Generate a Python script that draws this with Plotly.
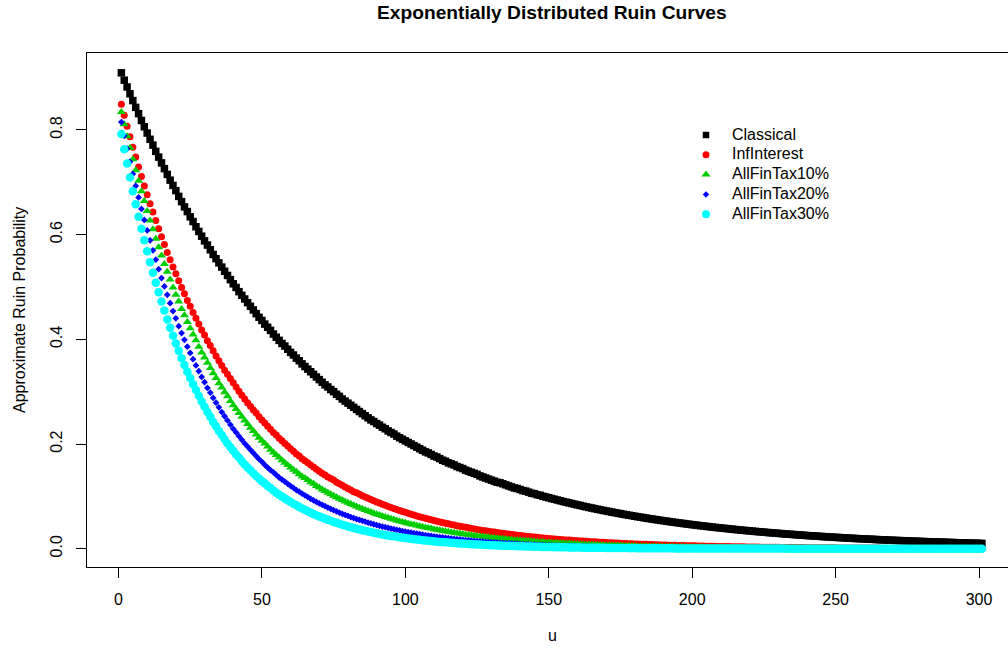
import plotly.graph_objects as go

# ---- data ----
u = list(range(1, 302))

classical = [
    0.909, 0.895, 0.882, 0.869, 0.856, 0.843, 0.831, 0.818, 0.806, 0.794,
    0.782, 0.771, 0.759, 0.748, 0.737, 0.726, 0.715, 0.704, 0.694, 0.684,
    0.673, 0.663, 0.653, 0.644, 0.634, 0.625, 0.615, 0.606, 0.597, 0.588,
    0.580, 0.571, 0.562, 0.554, 0.546, 0.538, 0.530, 0.522, 0.514, 0.506,
    0.499, 0.491, 0.484, 0.477, 0.470, 0.463, 0.456, 0.449, 0.442, 0.436,
    0.429, 0.423, 0.417, 0.410, 0.404, 0.398, 0.392, 0.387, 0.381, 0.375,
    0.370, 0.364, 0.359, 0.353, 0.348, 0.343, 0.338, 0.333, 0.328, 0.323,
    0.318, 0.313, 0.309, 0.304, 0.300, 0.295, 0.291, 0.286, 0.282, 0.278,
    0.274, 0.270, 0.266, 0.262, 0.258, 0.254, 0.250, 0.246, 0.243, 0.239,
    0.236, 0.232, 0.229, 0.225, 0.222, 0.219, 0.215, 0.212, 0.209, 0.206,
    0.203, 0.200, 0.197, 0.194, 0.191, 0.188, 0.185, 0.183, 0.180, 0.177,
    0.175, 0.172, 0.169, 0.167, 0.164, 0.162, 0.160, 0.157, 0.155, 0.153,
    0.150, 0.148, 0.146, 0.144, 0.142, 0.139, 0.137, 0.135, 0.133, 0.131,
    0.129, 0.127, 0.126, 0.124, 0.122, 0.120, 0.118, 0.116, 0.115, 0.113,
    0.111, 0.110, 0.108, 0.106, 0.105, 0.103, 0.102, 0.100, 0.0987, 0.0973,
    0.0958, 0.0944, 0.0930, 0.0916, 0.0902, 0.0889, 0.0876, 0.0863, 0.0850, 0.0837,
    0.0825, 0.0812, 0.0800, 0.0788, 0.0777, 0.0765, 0.0754, 0.0742, 0.0731, 0.0721,
    0.0710, 0.0699, 0.0689, 0.0679, 0.0669, 0.0659, 0.0649, 0.0639, 0.0630, 0.0620,
    0.0611, 0.0602, 0.0593, 0.0584, 0.0575, 0.0567, 0.0558, 0.0550, 0.0542, 0.0534,
    0.0526, 0.0518, 0.0510, 0.0503, 0.0495, 0.0488, 0.0481, 0.0473, 0.0466, 0.0459,
    0.0453, 0.0446, 0.0439, 0.0433, 0.0426, 0.0420, 0.0414, 0.0407, 0.0401, 0.0395,
    0.0390, 0.0384, 0.0378, 0.0372, 0.0367, 0.0361, 0.0356, 0.0351, 0.0345, 0.0340,
    0.0335, 0.0330, 0.0325, 0.0321, 0.0316, 0.0311, 0.0306, 0.0302, 0.0297, 0.0293,
    0.0289, 0.0284, 0.0280, 0.0276, 0.0272, 0.0268, 0.0264, 0.0260, 0.0256, 0.0252,
    0.0248, 0.0245, 0.0241, 0.0237, 0.0234, 0.0230, 0.0227, 0.0224, 0.0220, 0.0217,
    0.0214, 0.0211, 0.0207, 0.0204, 0.0201, 0.0198, 0.0195, 0.0192, 0.0190, 0.0187,
    0.0184, 0.0181, 0.0179, 0.0176, 0.0173, 0.0171, 0.0168, 0.0166, 0.0163, 0.0161,
    0.0158, 0.0156, 0.0154, 0.0151, 0.0149, 0.0147, 0.0145, 0.0143, 0.0140, 0.0138,
    0.0136, 0.0134, 0.0132, 0.0130, 0.0128, 0.0126, 0.0125, 0.0123, 0.0121, 0.0119,
    0.0117, 0.0116, 0.0114, 0.0112, 0.0110, 0.0109, 0.0107, 0.0106, 0.0104, 0.0102,
    0.0101,
]

inf_interest = [
    0.849, 0.828, 0.807, 0.787, 0.767, 0.748, 0.729, 0.711, 0.693, 0.676,
    0.659, 0.643, 0.627, 0.611, 0.596, 0.581, 0.566, 0.552, 0.538, 0.525,
    0.512, 0.499, 0.487, 0.474, 0.463, 0.451, 0.440, 0.429, 0.418, 0.408,
    0.397, 0.388, 0.378, 0.368, 0.359, 0.350, 0.341, 0.333, 0.325, 0.317,
    0.309, 0.301, 0.293, 0.286, 0.279, 0.272, 0.265, 0.259, 0.252, 0.246,
    0.240, 0.234, 0.228, 0.222, 0.217, 0.211, 0.206, 0.201, 0.196, 0.191,
    0.186, 0.181, 0.177, 0.172, 0.168, 0.164, 0.160, 0.156, 0.152, 0.148,
    0.144, 0.141, 0.137, 0.134, 0.131, 0.127, 0.124, 0.121, 0.118, 0.115,
    0.112, 0.109, 0.107, 0.104, 0.101, 0.0988, 0.0964, 0.0940, 0.0916, 0.0893,
    0.0871, 0.0849, 0.0828, 0.0807, 0.0787, 0.0767, 0.0748, 0.0730, 0.0711, 0.0694,
    0.0676, 0.0659, 0.0643, 0.0627, 0.0611, 0.0596, 0.0581, 0.0567, 0.0552, 0.0539,
    0.0525, 0.0512, 0.0499, 0.0487, 0.0475, 0.0463, 0.0451, 0.0440, 0.0429, 0.0418,
    0.0408, 0.0398, 0.0388, 0.0378, 0.0368, 0.0359, 0.0350, 0.0342, 0.0333, 0.0325,
    0.0317, 0.0309, 0.0301, 0.0293, 0.0286, 0.0279, 0.0272, 0.0265, 0.0259, 0.0252,
    0.0246, 0.0240, 0.0234, 0.0228, 0.0222, 0.0217, 0.0211, 0.0206, 0.0201, 0.0196,
    0.0191, 0.0186, 0.0181, 0.0177, 0.0172, 0.0168, 0.0164, 0.0160, 0.0156, 0.0152,
    0.0148, 0.0145, 0.0141, 0.0137, 0.0134, 0.0131, 0.0127, 0.0124, 0.0121, 0.0118,
    0.0115, 0.0112, 0.0109, 0.0107, 0.0104, 0.0101, 0.0099, 0.0096, 0.0094, 0.0092,
    0.0089, 0.0087, 0.0085, 0.0083, 0.0081, 0.0079, 0.0077, 0.0075, 0.0073, 0.0071,
    0.0069, 0.0068, 0.0066, 0.0064, 0.0063, 0.0061, 0.0060, 0.0058, 0.0057, 0.0055,
    0.0054, 0.0053, 0.0051, 0.0050, 0.0049, 0.0047, 0.0046, 0.0045, 0.0044, 0.0043,
    0.0042, 0.0041, 0.0040, 0.0039, 0.0038, 0.0037, 0.0036, 0.0035, 0.0034, 0.0033,
    0.0032, 0.0032, 0.0031, 0.0030, 0.0029, 0.0029, 0.0028, 0.0027, 0.0027, 0.0026,
    0.0025, 0.0025, 0.0024, 0.0023, 0.0023, 0.0022, 0.0022, 0.0021, 0.0021, 0.0020,
    0.0020, 0.0019, 0.0019, 0.0018, 0.0018, 0.0017, 0.0017, 0.0016, 0.0016, 0.0016,
    0.0015, 0.0015, 0.0014, 0.0014, 0.0014, 0.0013, 0.0013, 0.0013, 0.0012, 0.0012,
    0.0012, 0.0012, 0.0011, 0.0011, 0.0011, 0.0010, 0.0010, 0.0010, 0.0010, 0.0009,
    0.0009, 0.0009, 0.0009, 0.0008, 0.0008, 0.0008, 0.0008, 0.0008, 0.0007, 0.0007,
    0.0007, 0.0007, 0.0007, 0.0007, 0.0006, 0.0006, 0.0006, 0.0006, 0.0006, 0.0006,
    0.0006, 0.0005, 0.0005, 0.0005, 0.0005, 0.0005, 0.0005, 0.0005, 0.0005, 0.0004,
    0.0004,
]

all_fin_tax_10 = [
    0.834, 0.811, 0.788, 0.766, 0.744, 0.723, 0.703, 0.683, 0.664, 0.645,
    0.627, 0.610, 0.592, 0.576, 0.560, 0.544, 0.529, 0.514, 0.499, 0.485,
    0.472, 0.458, 0.446, 0.433, 0.421, 0.409, 0.398, 0.386, 0.375, 0.365,
    0.355, 0.345, 0.335, 0.326, 0.316, 0.308, 0.299, 0.291, 0.282, 0.274,
    0.267, 0.259, 0.252, 0.245, 0.238, 0.231, 0.225, 0.218, 0.212, 0.206,
    0.201, 0.195, 0.189, 0.184, 0.179, 0.174, 0.169, 0.164, 0.160, 0.155,
    0.151, 0.147, 0.142, 0.138, 0.135, 0.131, 0.127, 0.124, 0.120, 0.117,
    0.113, 0.110, 0.107, 0.104, 0.101, 0.0984, 0.0956, 0.0929, 0.0903, 0.0878,
    0.0853, 0.0829, 0.0806, 0.0783, 0.0761, 0.0740, 0.0719, 0.0699, 0.0679, 0.0660,
    0.0642, 0.0623, 0.0606, 0.0589, 0.0572, 0.0556, 0.0541, 0.0525, 0.0511, 0.0496,
    0.0482, 0.0469, 0.0456, 0.0443, 0.0430, 0.0418, 0.0407, 0.0395, 0.0384, 0.0373,
    0.0363, 0.0353, 0.0343, 0.0333, 0.0324, 0.0315, 0.0306, 0.0297, 0.0289, 0.0281,
    0.0273, 0.0265, 0.0258, 0.0250, 0.0243, 0.0237, 0.0230, 0.0223, 0.0217, 0.0211,
    0.0205, 0.0199, 0.0194, 0.0188, 0.0183, 0.0178, 0.0173, 0.0168, 0.0163, 0.0159,
    0.0154, 0.0150, 0.0146, 0.0142, 0.0138, 0.0134, 0.0130, 0.0126, 0.0123, 0.0119,
    0.0116, 0.0113, 0.0110, 0.0107, 0.0104, 0.0101, 0.0098, 0.0095, 0.0092, 0.0090,
    0.0087, 0.0085, 0.0082, 0.0080, 0.0078, 0.0076, 0.0074, 0.0071, 0.0069, 0.0068,
    0.0066, 0.0064, 0.0062, 0.0060, 0.0059, 0.0057, 0.0055, 0.0054, 0.0052, 0.0051,
    0.0049, 0.0048, 0.0047, 0.0045, 0.0044, 0.0043, 0.0042, 0.0040, 0.0039, 0.0038,
    0.0037, 0.0036, 0.0035, 0.0034, 0.0033, 0.0032, 0.0031, 0.0030, 0.0030, 0.0029,
    0.0028, 0.0027, 0.0026, 0.0026, 0.0025, 0.0024, 0.0024, 0.0023, 0.0022, 0.0022,
    0.0021, 0.0020, 0.0020, 0.0019, 0.0019, 0.0018, 0.0018, 0.0017, 0.0017, 0.0016,
    0.0016, 0.0015, 0.0015, 0.0014, 0.0014, 0.0014, 0.0013, 0.0013, 0.0013, 0.0012,
    0.0012, 0.0012, 0.0011, 0.0011, 0.0011, 0.0010, 0.0010, 0.0010, 0.0009, 0.0009,
    0.0009, 0.0009, 0.0008, 0.0008, 0.0008, 0.0008, 0.0008, 0.0007, 0.0007, 0.0007,
    0.0007, 0.0007, 0.0006, 0.0006, 0.0006, 0.0006, 0.0006, 0.0005, 0.0005, 0.0005,
    0.0005, 0.0005, 0.0005, 0.0005, 0.0005, 0.0004, 0.0004, 0.0004, 0.0004, 0.0004,
    0.0004, 0.0004, 0.0004, 0.0003, 0.0003, 0.0003, 0.0003, 0.0003, 0.0003, 0.0003,
    0.0003, 0.0003, 0.0003, 0.0003, 0.0003, 0.0002, 0.0002, 0.0002, 0.0002, 0.0002,
    0.0002, 0.0002, 0.0002, 0.0002, 0.0002, 0.0002, 0.0002, 0.0002, 0.0002, 0.0002,
    0.0002,
]

all_fin_tax_20 = [
    0.815, 0.789, 0.764, 0.739, 0.716, 0.693, 0.671, 0.649, 0.628, 0.608,
    0.589, 0.570, 0.552, 0.534, 0.517, 0.501, 0.485, 0.469, 0.454, 0.440,
    0.425, 0.412, 0.399, 0.386, 0.374, 0.362, 0.350, 0.339, 0.328, 0.318,
    0.307, 0.298, 0.288, 0.279, 0.270, 0.261, 0.253, 0.245, 0.237, 0.229,
    0.222, 0.215, 0.208, 0.201, 0.195, 0.189, 0.183, 0.177, 0.171, 0.166,
    0.160, 0.155, 0.150, 0.146, 0.141, 0.136, 0.132, 0.128, 0.124, 0.120,
    0.116, 0.112, 0.109, 0.105, 0.102, 0.0986, 0.0954, 0.0924, 0.0894, 0.0865,
    0.0838, 0.0811, 0.0785, 0.0760, 0.0736, 0.0712, 0.0689, 0.0667, 0.0646, 0.0625,
    0.0605, 0.0586, 0.0567, 0.0549, 0.0532, 0.0515, 0.0498, 0.0482, 0.0467, 0.0452,
    0.0437, 0.0423, 0.0410, 0.0397, 0.0384, 0.0372, 0.0360, 0.0348, 0.0337, 0.0326,
    0.0316, 0.0306, 0.0296, 0.0287, 0.0277, 0.0269, 0.0260, 0.0252, 0.0244, 0.0236,
    0.0228, 0.0221, 0.0214, 0.0207, 0.0200, 0.0194, 0.0188, 0.0182, 0.0176, 0.0170,
    0.0165, 0.0160, 0.0155, 0.0150, 0.0145, 0.0140, 0.0136, 0.0131, 0.0127, 0.0123,
    0.0119, 0.0115, 0.0112, 0.0108, 0.0105, 0.0101, 0.0098, 0.0095, 0.0092, 0.0089,
    0.0086, 0.0083, 0.0081, 0.0078, 0.0076, 0.0073, 0.0071, 0.0069, 0.0066, 0.0064,
    0.0062, 0.0060, 0.0058, 0.0056, 0.0055, 0.0053, 0.0051, 0.0050, 0.0048, 0.0046,
    0.0045, 0.0044, 0.0042, 0.0041, 0.0039, 0.0038, 0.0037, 0.0036, 0.0035, 0.0034,
    0.0032, 0.0031, 0.0030, 0.0029, 0.0029, 0.0028, 0.0027, 0.0026, 0.0025, 0.0024,
    0.0023, 0.0023, 0.0022, 0.0021, 0.0021, 0.0020, 0.0019, 0.0019, 0.0018, 0.0018,
    0.0017, 0.0016, 0.0016, 0.0015, 0.0015, 0.0014, 0.0014, 0.0014, 0.0013, 0.0013,
    0.0012, 0.0012, 0.0011, 0.0011, 0.0011, 0.0010, 0.0010, 0.0010, 0.0009, 0.0009,
    0.0009, 0.0009, 0.0008, 0.0008, 0.0008, 0.0008, 0.0007, 0.0007, 0.0007, 0.0007,
    0.0006, 0.0006, 0.0006, 0.0006, 0.0006, 0.0005, 0.0005, 0.0005, 0.0005, 0.0005,
    0.0005, 0.0004, 0.0004, 0.0004, 0.0004, 0.0004, 0.0004, 0.0004, 0.0004, 0.0004,
    0.0003, 0.0003, 0.0003, 0.0003, 0.0003, 0.0003, 0.0003, 0.0003, 0.0003, 0.0003,
    0.0002, 0.0002, 0.0002, 0.0002, 0.0002, 0.0002, 0.0002, 0.0002, 0.0002, 0.0002,
    0.0002, 0.0002, 0.0002, 0.0002, 0.0002, 0.0001, 0.0001, 0.0001, 0.0001, 0.0001,
    0.0001, 0.0001, 0.0001, 0.0001, 0.0001, 0.0001, 0.0001, 0.0001, 0.0001, 0.0001,
    0.0001, 0.0001, 0.0001, 0.0001, 0.0001, 0.0001, 0.0001, 0.0001, 0.0001, 0.0001,
    0.0001, 0.0001, 0.0001, 0.0001, 0.0001, 0.0001, 0.0001, 0.0001, 0.0001, 0.0001,
    0.0000,
]

all_fin_tax_30 = [
    0.792, 0.763, 0.736, 0.709, 0.683, 0.658, 0.634, 0.611, 0.589, 0.568,
    0.547, 0.527, 0.508, 0.490, 0.472, 0.455, 0.438, 0.422, 0.407, 0.392,
    0.378, 0.364, 0.351, 0.338, 0.326, 0.314, 0.303, 0.292, 0.281, 0.271,
    0.261, 0.252, 0.242, 0.234, 0.225, 0.217, 0.209, 0.201, 0.194, 0.187,
    0.180, 0.174, 0.167, 0.161, 0.155, 0.150, 0.144, 0.139, 0.134, 0.129,
    0.125, 0.120, 0.116, 0.111, 0.107, 0.103, 0.0997, 0.0961, 0.0926, 0.0893,
    0.0860, 0.0829, 0.0799, 0.0770, 0.0742, 0.0715, 0.0689, 0.0664, 0.0640, 0.0617,
    0.0594, 0.0573, 0.0552, 0.0532, 0.0512, 0.0494, 0.0476, 0.0459, 0.0442, 0.0426,
    0.0410, 0.0395, 0.0381, 0.0367, 0.0354, 0.0341, 0.0329, 0.0317, 0.0305, 0.0294,
    0.0283, 0.0273, 0.0263, 0.0254, 0.0244, 0.0236, 0.0227, 0.0219, 0.0211, 0.0203,
    0.0196, 0.0189, 0.0182, 0.0175, 0.0169, 0.0163, 0.0157, 0.0151, 0.0146, 0.0140,
    0.0135, 0.0130, 0.0126, 0.0121, 0.0117, 0.0112, 0.0108, 0.0104, 0.0101, 0.0097,
    0.0093, 0.0090, 0.0087, 0.0084, 0.0081, 0.0078, 0.0075, 0.0072, 0.0069, 0.0067,
    0.0065, 0.0062, 0.0060, 0.0058, 0.0056, 0.0054, 0.0052, 0.0050, 0.0048, 0.0046,
    0.0045, 0.0043, 0.0041, 0.0040, 0.0038, 0.0037, 0.0036, 0.0034, 0.0033, 0.0032,
    0.0031, 0.0030, 0.0029, 0.0028, 0.0027, 0.0026, 0.0025, 0.0024, 0.0023, 0.0022,
    0.0021, 0.0020, 0.0020, 0.0019, 0.0018, 0.0018, 0.0017, 0.0016, 0.0016, 0.0015,
    0.0015, 0.0014, 0.0014, 0.0013, 0.0013, 0.0012, 0.0012, 0.0011, 0.0011, 0.0011,
    0.0010, 0.0010, 0.0009, 0.0009, 0.0009, 0.0008, 0.0008, 0.0008, 0.0008, 0.0007,
    0.0007, 0.0007, 0.0007, 0.0006, 0.0006, 0.0006, 0.0006, 0.0005, 0.0005, 0.0005,
    0.0005, 0.0005, 0.0004, 0.0004, 0.0004, 0.0004, 0.0004, 0.0004, 0.0004, 0.0004,
    0.0003, 0.0003, 0.0003, 0.0003, 0.0003, 0.0003, 0.0003, 0.0003, 0.0003, 0.0003,
    0.0002, 0.0002, 0.0002, 0.0002, 0.0002, 0.0002, 0.0002, 0.0002, 0.0002, 0.0002,
    0.0002, 0.0002, 0.0001, 0.0001, 0.0001, 0.0001, 0.0001, 0.0001, 0.0001, 0.0001,
    0.0001, 0.0001, 0.0001, 0.0001, 0.0001, 0.0001, 0.0001, 0.0001, 0.0001, 0.0001,
    0.0001, 0.0001, 0.0001, 0.0001, 0.0001, 0.0001, 0.0001, 0.0001, 0.0001, 0.0001,
    0.0001, 0.0001, 0.0001, 0.0001, 0.0001, 0.0001, 0.0001, 0.0001, 0.0001, 0.0001,
    0.0000, 0.0000, 0.0000, 0.0000, 0.0000, 0.0000, 0.0000, 0.0000, 0.0000, 0.0000,
    0.0000, 0.0000, 0.0000, 0.0000, 0.0000, 0.0000, 0.0000, 0.0000, 0.0000, 0.0000,
    0.0000, 0.0000, 0.0000, 0.0000, 0.0000, 0.0000, 0.0000, 0.0000, 0.0000, 0.0000,
    0.0000,
]

series_names = ["Classical", "InfInterest", "AllFinTax10%", "AllFinTax20%", "AllFinTax30%"]
x_tick_values = [0, 50, 100, 150, 200, 250, 300]
y_tick_values = [0.0, 0.2, 0.4, 0.6, 0.8]
y_tick_labels = ["0.0", "0.2", "0.4", "0.6", "0.8"]

# ---- styling ----
FONT = "Liberation Sans, Arial, Helvetica, sans-serif"
colors = ["#000000", "#FF0000", "#00CD00", "#0000FF", "#00FFFF"]
symbols = ["square", "circle", "triangle-up", "diamond", "circle"]
sizes = [7.5, 7, 8, 5.2, 8.5]
legend_sizes = [6.5, 7, 8, 5, 8]

W, H = 1008, 652
L, R, T, B = 87, 0, 53, 85

# legend layout (pixel positions on the page)
LEG_MARK_X = 706
LEG_TEXT_X = 730
LEG_ROW_Y = [135, 154.8, 174.6, 194.4, 214.2]

fig = go.Figure()
all_series = [classical, inf_interest, all_fin_tax_10, all_fin_tax_20, all_fin_tax_30]
for name, vals, col, sym, sz in zip(series_names, all_series, colors, symbols, sizes):
    fig.add_trace(go.Scatter(
        x=u, y=vals, mode="markers", name=name, showlegend=False,
        marker=dict(color=col, symbol=sym, size=sz, line=dict(width=0)),
    ))

# legend keys drawn on a pixel-space overlay axis
for name, col, sym, sz, ry in zip(series_names, colors, symbols, legend_sizes, LEG_ROW_Y):
    fig.add_trace(go.Scatter(
        x=[LEG_MARK_X], y=[ry], xaxis="x2", yaxis="y2", mode="markers",
        showlegend=False, hoverinfo="skip", cliponaxis=False,
        marker=dict(color=col, symbol=sym, size=sz, line=dict(width=0)),
    ))

fig.update_layout(
    width=W, height=H,
    margin=dict(l=L, r=R, t=T, b=B, pad=0),
    paper_bgcolor="white", plot_bgcolor="white",
    font=dict(family=FONT, size=16, color="#000000"),
    showlegend=False,
    xaxis=dict(
        range=[-10.98, 310.1], tickmode="array", tickvals=x_tick_values,
        ticks="outside", ticklen=10, tickwidth=1, tickcolor="#000000",
        showline=True, linecolor="#000000", linewidth=1, mirror=True,
        showgrid=False, zeroline=False,
        tickfont=dict(family=FONT, size=16, color="#000000"),
        ticklabelstandoff=8,
    ),
    yaxis=dict(
        range=[-0.03496, 0.9469], tickmode="array", tickvals=y_tick_values,
        ticktext=y_tick_labels, tickangle=-90,
        ticks="outside", ticklen=10, tickwidth=1, tickcolor="#000000",
        showline=True, linecolor="#000000", linewidth=1, mirror=False,
        showgrid=False, zeroline=False,
        tickfont=dict(family=FONT, size=16, color="#000000"),
        ticklabelstandoff=8,
    ),
    xaxis2=dict(overlaying="x", range=[L, W - R], visible=False, fixedrange=True),
    yaxis2=dict(overlaying="y", range=[H - B, T], visible=False, fixedrange=True),
)

pw = W - L - R
ph = H - T - B
def px_to_paper_x(px):
    return (px - L) / pw
def px_to_paper_y(py):
    return (H - B - py) / ph

for name, ry in zip(series_names, LEG_ROW_Y):
    fig.add_annotation(
        text=name, xref="paper", yref="paper",
        x=px_to_paper_x(LEG_TEXT_X), y=px_to_paper_y(ry - 1),
        xanchor="left", yanchor="middle", showarrow=False,
        font=dict(family=FONT, size=16, color="#000000"),
    )

fig.add_annotation(
    text="<b>Exponentially Distributed Ruin Curves</b>",
    xref="paper", yref="paper", x=px_to_paper_x(552), y=px_to_paper_y(12.5),
    xanchor="center", yanchor="middle", showarrow=False,
    font=dict(family=FONT, size=19.2, color="#000000"),
)
fig.add_annotation(
    text="u", xref="paper", yref="paper",
    x=px_to_paper_x(552), y=px_to_paper_y(635),
    xanchor="center", yanchor="middle", showarrow=False,
    font=dict(family=FONT, size=16, color="#000000"),
)
fig.add_annotation(
    text="Approximate Ruin Probability", xref="paper", yref="paper",
    x=px_to_paper_x(19), y=0.5, textangle=-90,
    xanchor="center", yanchor="middle", showarrow=False,
    font=dict(family=FONT, size=16, color="#000000"),
)

fig.write_html(
    "out.html",
    config={"displayModeBar": False},
    post_script="document.body.style.margin='0px';",
)
